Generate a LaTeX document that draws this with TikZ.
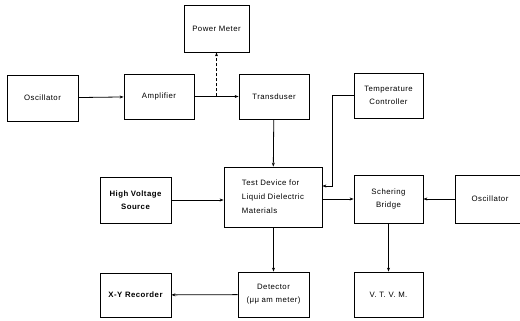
\documentclass[tikz,border=0pt]{standalone}
\usepackage{fontspec}
\setmainfont[LetterSpace=6]{Liberation Sans}
\usetikzlibrary{arrows.meta, positioning, calc}
\tikzset{
  every picture/.style={line width=0.8pt},
  box/.style={draw, fill=white, align=center, inner sep=2pt, font=\fontsize{7.8}{13}\selectfont},
  arrow/.style={-{Stealth[length=4pt, width=3pt]}},
}

\begin{document}
\begin{tikzpicture}[x=1pt, y=-1pt,
  blk/.style={box, minimum width=#1, minimum height=45},
  blk/.default=70,
]
  \useasboundingbox (0,0) rectangle (520,321);

  % top row
  \node[blk=71, minimum height=46] (osca) at (42.5,98) {Oscillator};
  \node[blk] (amp) at (159,96.5) {Amplifier};
  \node[blk=65, minimum height=47] (pm) at (216.5,28.5) {Power Meter};
  \node[blk] (trans) at (274,96.5) {Transduser};
  \node[blk=69] (temp) at (388.5,95.5) {Temperature\\ Controller};

  % middle row
  \node[blk=71, minimum height=46, font=\fontsize{7.8}{13}\selectfont\bfseries] (hv) at (135.5,200) {High Voltage\\ Source};
  \node[blk=98, minimum height=60, align=left, font=\fontsize{7.8}{14}\selectfont] (test) at (273,197) {Test Device for\\ Liquid Dielectric\\ Materials};
  \node[blk=69, minimum height=48] (bridge) at (388.5,199) {Schering\\ Bridge};
  \node[blk=70, minimum height=48] (oscb) at (490,199) {Oscillator};

  % bottom row
  \node[blk=71, minimum height=44, font=\fontsize{7.8}{13}\selectfont\bfseries] (xy) at (135.5,295) {X-Y Recorder};
  \node[blk=71] (det) at (273.5,294.5) {Detector\\ (μμ am meter)};
  \node[blk=69] (vtvm) at (388.5,294.5) {V.\ T.\ V.\ M.};

  \coordinate (tap) at (pm.south |- amp.east);
  \coordinate (bend) at (332,186);

  \draw[arrow] (osca) -- (amp);
  \draw[arrow] (amp) -- (trans);
  \draw[arrow, dashed, dash pattern=on 3pt off 2pt] (tap) -- (pm);
  \draw[arrow] (trans) -- (test);
  \draw[arrow] (temp.west) -| (bend) -- (bend -| test.east);
  \draw[arrow] (hv.east) -- (hv.east -| test.west);
  \draw[arrow] (test.east |- bridge.west) -- (bridge.west);
  \draw[arrow] (oscb) -- (bridge);
  \draw[arrow] (test.south -| det.north) -- (det.north);
  \draw[arrow] (det) -- (xy);
  \draw[arrow] (bridge) -- (vtvm);
\end{tikzpicture}
\end{document}
